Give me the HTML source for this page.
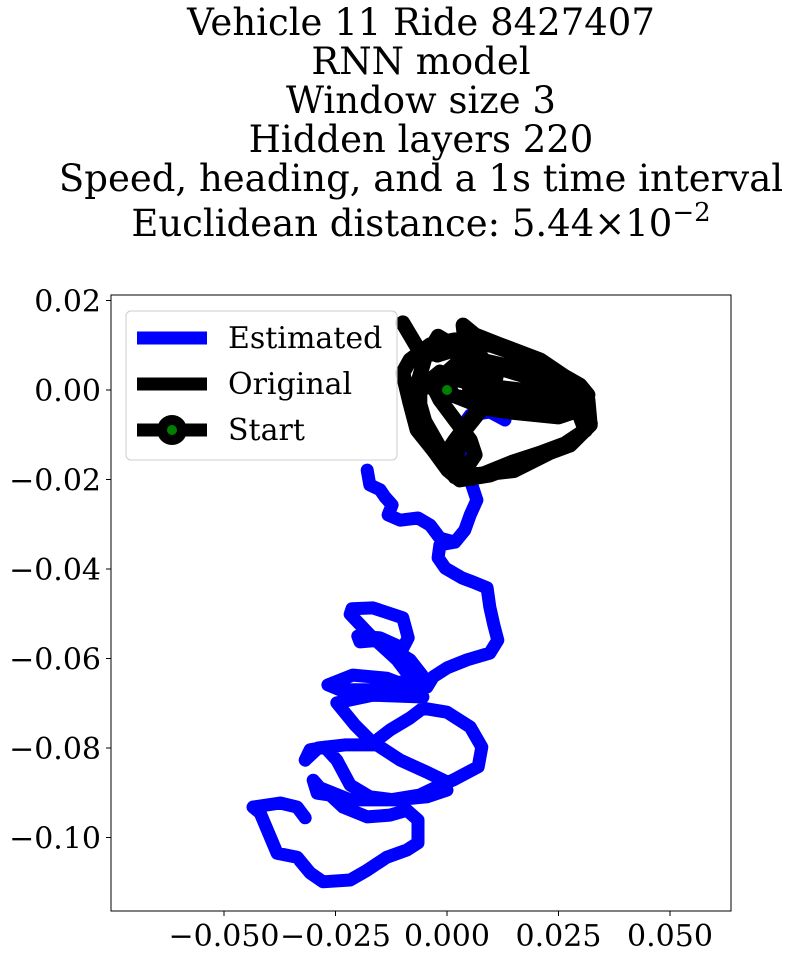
<!DOCTYPE html>
<html><head><meta charset="utf-8"><style>
html,body{margin:0;padding:0;background:#fff;}
svg{display:block;font-family:"DejaVu Serif","Liberation Serif",serif;}
</style></head><body>
<svg id="chart" width="794" height="958" viewBox="0 0 794 958" xmlns="http://www.w3.org/2000/svg">
<g font-size="37" text-anchor="middle" fill="#000">
<text x="421" y="35">Vehicle 11 Ride 8427407</text>
<text x="421" y="74">RNN model</text>
<text x="421" y="113">Window size 3</text>
<text x="421" y="152">Hidden layers 220</text>
<text x="421" y="191">Speed, heading, and a 1s time interval</text>
<text x="421" y="236">Euclidean distance: 5.44×10<tspan dy="-15" font-size="26">−2</tspan></text>
</g>
<defs><clipPath id="clip"><rect x="111" y="295" width="620" height="616"/></clipPath></defs>
<g id="plot" clip-path="url(#clip)"></g>
<rect x="111" y="295" width="620" height="616" fill="none" stroke="#000" stroke-width="1"/>
<g id="axes" font-size="30" fill="#000"></g>
<g>
<rect x="126" y="311" width="271" height="149" rx="5" fill="#fff" fill-opacity="0.8" stroke="#ccc" stroke-width="1"/>
<line x1="137" y1="338" x2="207" y2="338" stroke="#0000ff" stroke-width="13"/>
<text x="228" y="348" font-size="30">Estimated</text>
<line x1="137" y1="384" x2="207" y2="384" stroke="#000" stroke-width="13"/>
<text x="228" y="394" font-size="30">Original</text>
<line x1="137" y1="430" x2="207" y2="430" stroke="#000" stroke-width="13"/>
<circle cx="172" cy="430" r="15" fill="#000"/>
<circle cx="172" cy="430" r="5" fill="#008000"/>
<text x="228" y="440" font-size="30">Start</text>
</g>
</svg>
<script>
// values in thousandths of a degree
const estX = [-17.9,-17.3,-15.0,-13.9,-12.3,-13.2,-10.5,-6.5,-3.8,-1.6,1.8,4.0,5.2,6.7,5.2,4.3,3.4,3.6,5.2,9.6,13.0,9.6,5.2,3.6,3.4,4.3,5.2,6.7,5.2,4.0,1.8,-1.6,-2.0,-0.4,3.4,5.8,9.0,9.6,10.5,11.4,9.6,4.5,0.0,-3.1,-4.5,-5.6,-8.3,-11.2,-15.0,-19.5,-20.0,-15.0,-9.9,-8.7,-9.9,-16.6,-21.3,-21.7,-17.3,-11.2,-6.1,-8.3,-13.5,-21.1,-26.7,-24.0,-16.6,-10.5,-5.4,-16.6,-24.7,-20.6,-16.6,-12.8,-8.3,-5.4,0.0,5.2,7.8,7.0,1.3,-2.2,0.0,-4.5,-11.7,-17.3,-21.7,-24.7,-27.4,-30.7,-31.8,-28.9,-22.9,-15.7,-10.5,-4.5,0.0,-6.1,-12.8,-21.7,-28.5,-30.0,-29.1,-26.2,-23.3,-17.9,-12.8,-9.0,-6.5,-6.5,-9.0,-13.5,-17.9,-21.7,-27.8,-30.7,-33.6,-38.1,-41.9,-43.5,-37.4,-33.6,-31.8];
const estY = [-17.9,-21.2,-22.3,-23.9,-25.7,-27.9,-29.1,-28.6,-30.2,-33.1,-34.0,-31.3,-27.9,-24.6,-20.1,-15.6,-11.2,-7.8,-5.6,-4.9,-6.7,-4.9,-5.6,-7.8,-11.2,-15.6,-20.1,-24.6,-27.9,-31.3,-34.0,-34.6,-37.5,-39.8,-42.0,-42.9,-44.2,-48.5,-52.5,-55.9,-58.8,-60.3,-62.1,-64.1,-66.4,-63.7,-60.3,-58.5,-55.9,-56.3,-55.0,-55.4,-57.7,-55.4,-50.9,-48.7,-48.9,-50.1,-54.7,-60.3,-67.0,-66.4,-64.4,-63.7,-65.9,-67.0,-67.0,-65.3,-68.6,-68.2,-69.9,-74.9,-78.9,-76.0,-73.3,-71.1,-72.0,-75.3,-79.8,-84.2,-87.2,-88.7,-89.4,-90.9,-91.6,-90.9,-88.3,-82.7,-79.8,-80.4,-82.7,-80.0,-79.3,-79.3,-82.7,-85.4,-87.6,-90.5,-91.6,-91.6,-88.9,-87.2,-90.1,-90.5,-93.2,-95.4,-95.0,-93.9,-96.1,-101.2,-102.8,-104.4,-107.3,-109.5,-109.9,-107.9,-104.4,-103.5,-94.5,-93.2,-92.3,-93.2,-95.6];
const origX = [-9.9,-6.7,-2.2,3.6,9.6,16.4,23.8,29.8,31.6,26.5,16.4,7.4,2.9,-1.6,-3.8,-1.6,1.8,5.2,6.3,4.0,1.8,5.8,14.8,20.9,28.7,32.1,30.9,23.1,11.9,5.2,2.9,4.0,3.6,6.3,11.9,20.9,27.6,31.6,32.1,27.6,18.6,9.6,2.9,0.2,-3.1,-6.7,-8.3,-9.9,-8.3,-3.8,1.8,7.4,9.6,8.5,5.2,1.8,-0.4,-3.8,-6.1,-6.1,-1.6,2.9,7.4,9.6,5.2,0.7,-0.4,4.0,8.5,3.0,8.0,11.0,10.0,6.0,1.0,0.0,4.0,15.0,25.0,31.0,25.0,15.0,8.0,4.0,2.0,6.0,15.0,25.0,31.0,28.0,18.0,8.0,-2.0,-5.0,-7.0,-5.0,-1.0,3.0];
const origY = [15.0,9.6,7.8,9.6,10.1,7.8,4.5,1.1,-1.1,-1.1,0.0,1.1,2.2,4.0,2.2,-2.2,-6.7,-11.2,-14.5,-17.9,-19.4,-19.7,-16.1,-14.1,-11.2,-7.4,-4.5,-3.4,-2.2,0.0,6.7,11.2,14.5,12.3,10.1,6.7,2.2,-2.2,-7.8,-12.3,-15.6,-19.0,-20.1,-17.9,-13.4,-8.9,-2.9,3.8,6.7,10.1,11.2,6.7,2.2,-2.2,-6.7,-11.2,-14.5,-11.2,-5.6,0.0,2.2,5.6,4.5,0.0,-2.2,-1.1,3.4,6.7,3.4,8.0,7.0,3.0,-1.0,-3.0,-1.0,4.0,7.5,5.0,2.0,-4.0,-6.0,-5.0,-4.0,-9.0,-15.0,-19.0,-18.0,-13.0,-9.0,-1.0,3.0,6.0,12.0,7.0,0.0,-7.0,-14.0,-18.0];
const startX = [0.0];
const startY = [0.0];
const xTicks = [-50,-25,0,25,50];
const xTickLabels = ["−0.050","−0.025","0.000","0.025","0.050"];
const yTicks = [20,0,-20,-40,-60,-80,-100];
const yTickLabels = ["0.02","0.00","−0.02","−0.04","−0.06","−0.08","−0.10"];

const NS = "http://www.w3.org/2000/svg";
function sx(v){ return 447 + v * 4.46; }
function sy(v){ return 390 - v * 4.475; }
const plot = document.getElementById('plot');
const axes = document.getElementById('axes');
function mkPath(xs, ys){ return xs.map((x,i)=>(i?'L':'M')+sx(x).toFixed(1)+','+sy(ys[i]).toFixed(1)).join(''); }

const est = document.createElementNS(NS,'path');
est.setAttribute('d', mkPath(estX, estY));
est.setAttribute('fill','none'); est.setAttribute('stroke','#0000ff'); est.setAttribute('stroke-width','13');
est.setAttribute('stroke-linejoin','round'); est.setAttribute('stroke-linecap','round');


plot.appendChild(est);

const orig = document.createElementNS(NS,'path');
orig.setAttribute('d', mkPath(origX, origY));
orig.setAttribute('fill','none'); orig.setAttribute('stroke','#000'); orig.setAttribute('stroke-width','15');
orig.setAttribute('stroke-linejoin','round'); orig.setAttribute('stroke-linecap','round');


plot.appendChild(orig);

startX.forEach((x,i)=>{
  const c = document.createElementNS(NS,'circle');
  c.setAttribute('cx', sx(x)); c.setAttribute('cy', sy(startY[i])); c.setAttribute('r','5'); c.setAttribute('fill','#008000');
  
  
  plot.appendChild(c);
});

xTicks.forEach((t,i)=>{
  const l = document.createElementNS(NS,'line');
  l.setAttribute('x1', sx(t)); l.setAttribute('x2', sx(t)); l.setAttribute('y1', 911); l.setAttribute('y2', 916);
  l.setAttribute('stroke','#000');
  
  
  axes.appendChild(l);
  const tx = document.createElementNS(NS,'text');
  tx.setAttribute('x', sx(t)); tx.setAttribute('y', 946); tx.setAttribute('text-anchor','middle');
  tx.textContent = xTickLabels[i];
  
  
  axes.appendChild(tx);
});
yTicks.forEach((t,i)=>{
  const l = document.createElementNS(NS,'line');
  l.setAttribute('x1', 106); l.setAttribute('x2', 111); l.setAttribute('y1', sy(t)); l.setAttribute('y2', sy(t));
  l.setAttribute('stroke','#000');
  
  
  axes.appendChild(l);
  const tx = document.createElementNS(NS,'text');
  tx.setAttribute('x', 101); tx.setAttribute('y', sy(t)+11); tx.setAttribute('text-anchor','end');
  tx.textContent = yTickLabels[i];
  
  
  axes.appendChild(tx);
});
</script>
</body></html>
